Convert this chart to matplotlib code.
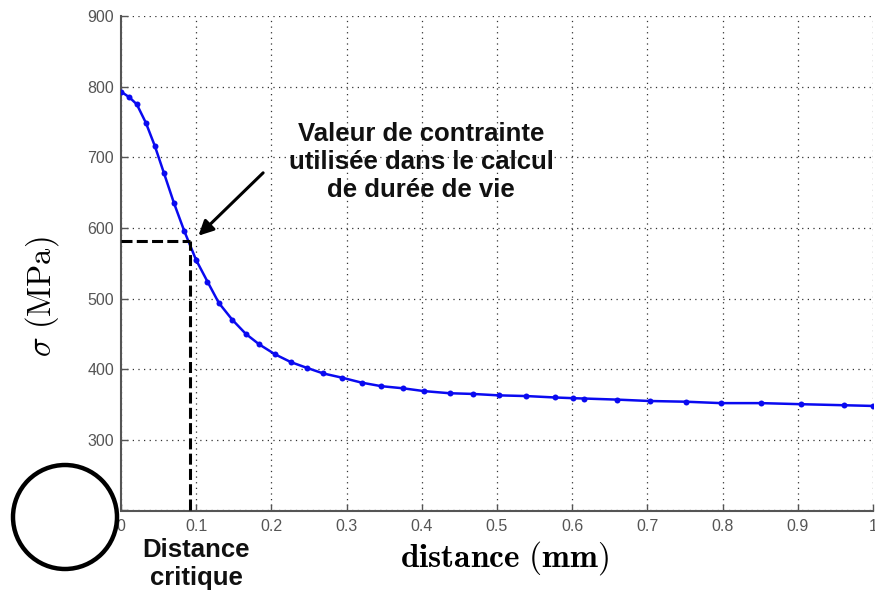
import matplotlib
matplotlib.use("Agg")
import matplotlib.pyplot as plt
from matplotlib.patches import Ellipse

plt.rcParams['mathtext.fontset'] = 'cm'

# ---- data ----
distance = [0, 0.011, 0.021, 0.033, 0.045, 0.057, 0.0705, 0.084, 0.0997, 0.115,
            0.130, 0.148, 0.166, 0.184, 0.205, 0.226, 0.247, 0.269, 0.294, 0.320,
            0.346, 0.375, 0.403, 0.437, 0.468, 0.502, 0.539, 0.577, 0.601, 0.616,
            0.659, 0.703, 0.751, 0.798, 0.851, 0.904, 0.962, 1.0]
sigma = [793, 785, 775, 749, 716, 678, 635, 596, 555, 524,
         494, 470, 450, 435, 421, 410, 402, 394, 388, 381,
         376, 373, 369, 366, 365, 363, 362, 360, 359, 358.5,
         357, 355, 354, 352, 352, 350.5, 349, 348]
critical_distance = 0.092
critical_stress = 581
x_ticks = [0, 0.1, 0.2, 0.3, 0.4, 0.5, 0.6, 0.7, 0.8, 0.9, 1]
x_tick_labels = ['0', '0.1', '0.2', '0.3', '0.4', '0.5', '0.6', '0.7', '0.8', '0.9', '1']
y_ticks = [200, 300, 400, 500, 600, 700, 800, 900]
annot_text = "Valeur de contrainte\nutilisée dans le calcul\nde durée de vie"
arrow_tail = (0.189, 678)
arrow_head = (0.103, 589)
annot_pos = (0.399, 693)

fig = plt.figure(figsize=(8.75, 5.95), dpi=100)
ax = fig.add_axes([121/875, 1 - 510.5/595, (873-121)/875, (510.5-16)/595])

ax.plot(distance, sigma, color='#0a0af0', lw=1.8, marker='o', markersize=4.3,
        markeredgewidth=0, zorder=3)

# dashed critical lines
ax.plot([0, critical_distance], [critical_stress, critical_stress], color='black',
        lw=2.2, linestyle=(0, (3.6, 1.4)), zorder=4)
ax.plot([critical_distance, critical_distance], [200, critical_stress], color='black',
        lw=2.2, linestyle=(0, (3.6, 1.4)), zorder=4)

ax.set_xlim(0, 1)
ax.set_ylim(200, 900)
ax.set_xticks(x_ticks)
ax.set_xticklabels(x_tick_labels)
ax.set_yticks(y_ticks)

ax.grid(True, color='#333333', linestyle=(0, (1, 3.5)), lw=0.9)
ax.set_axisbelow(True)
for s in ['top', 'right']:
    ax.spines[s].set_visible(False)
for s in ['left', 'bottom']:
    ax.spines[s].set_color('#555555')
    ax.spines[s].set_linewidth(1.5)

ax.tick_params(axis='both', labelsize=11.5, labelcolor='#555555', color='#555555',
               direction='in', length=5, width=1)
for lab in ax.get_xticklabels() + ax.get_yticklabels():
    lab.set_family('Liberation Sans')
ax.tick_params(axis='x', pad=6)
ax.tick_params(axis='y', pad=5)

# annotation
ax.annotate('', xy=arrow_head, xytext=arrow_tail,
            arrowprops=dict(arrowstyle='-|>', lw=2.2, color='black',
                            mutation_scale=22, shrinkA=0, shrinkB=0), zorder=5)
ax.text(annot_pos[0], annot_pos[1], annot_text, ha='center', va='center',
        fontsize=18.5, fontweight='bold', family='Liberation Sans',
        linespacing=1.22, color='#111111', zorder=5)

# axis labels
fig.text(504/875, 1 - 558/595, r'$\mathbf{distance\ (mm)}$', ha='center', va='center',
         fontsize=24)
fig.text(42/875, 1 - 297/595, r'$\sigma\ \mathrm{(MPa)}$', ha='center', va='center',
         fontsize=23.5, rotation=90)

fig.text(196/875, 1 - 564/595, "Distance\ncritique", ha='center', va='center',
         fontsize=18.5, fontweight='bold', family='Liberation Sans', linespacing=1.2,
         color='#111111')

# circle marker
circ = Ellipse((65/875, 1 - 517/595), 104/875, 104/595, transform=fig.transFigure,
               facecolor='white', edgecolor='black', lw=3.2, zorder=10)
fig.add_artist(circ)

fig.savefig('out.png', dpi=100)
